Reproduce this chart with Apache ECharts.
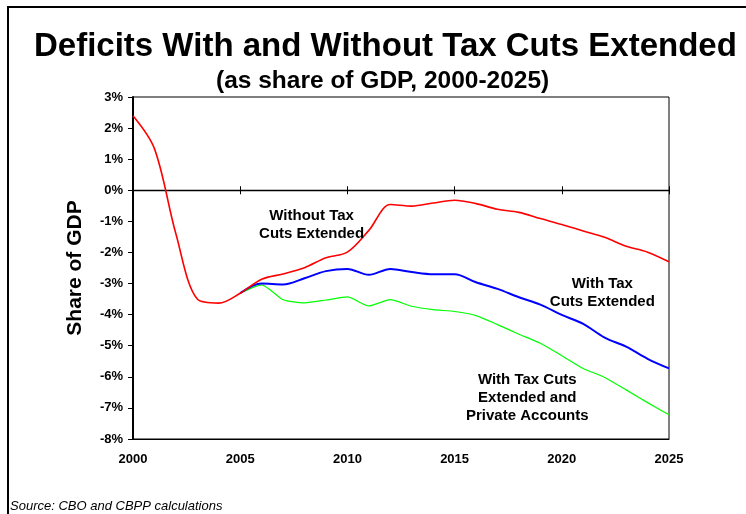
<!DOCTYPE html>
<html>
<head>
<meta charset="utf-8">
<script src="https://cdn.jsdelivr.net/npm/echarts@6/dist/echarts.min.js"></script>
<style>
  html, body { margin: 0; padding: 0; background: #fff; }
  #chart { width: 746px; height: 514px; }
</style>
</head>
<body>
<div id="chart"></div>
<script>
// Fiscal years on the horizontal axis
const years = [2000, 2001, 2002, 2003, 2004, 2005, 2006, 2007, 2008, 2009,
               2010, 2011, 2012, 2013, 2014, 2015, 2016, 2017, 2018, 2019,
               2020, 2021, 2022, 2023, 2024, 2025];

// Deficit (-) / surplus (+) as % of GDP
const withoutTaxCuts = [2.4, 1.34, -1.4, -3.5, -3.63, -3.31, -2.86, -2.69, -2.49, -2.17,
                        -1.99, -1.29, -0.46, -0.51, -0.41, -0.32, -0.43, -0.61, -0.71, -0.91,
                        -1.10, -1.31, -1.51, -1.80, -1.99, -2.30];
const withTaxCuts = [null, null, null, null, null, -3.31, -3.0, -3.03, -2.83, -2.60,
                     -2.53, -2.72, -2.53, -2.63, -2.70, -2.70, -2.96, -3.17, -3.44, -3.68,
                     -4.01, -4.30, -4.74, -5.03, -5.42, -5.73];
const withTaxCutsAndAccounts = [null, null, null, null, null, -3.31, -3.04, -3.52, -3.62, -3.53,
                                -3.43, -3.72, -3.52, -3.73, -3.84, -3.90, -4.03, -4.32, -4.63, -4.92,
                                -5.32, -5.73, -6.02, -6.42, -6.83, -7.22];

// Y-axis range (percent of GDP)
const yMin = -8, yMax = 3, yStep = 1;
// X-axis range
const xMin = 2000, xMax = 2025, xStep = 5;

const FONT = '"Liberation Sans", Arial, sans-serif';

function pairs(vals) {
  const out = [];
  vals.forEach((v, i) => { if (v !== null) out.push([years[i], v]); });
  return out;
}

function note(text, coord) {
  return {
    coord: coord,
    symbol: 'circle',
    symbolSize: 0,
    label: {
      show: true,
      position: 'inside',
      formatter: text,
      color: '#000',
      fontFamily: FONT,
      fontWeight: 'bold',
      fontSize: 15,
      lineHeight: 18,
      align: 'center',
      verticalAlign: 'middle'
    }
  };
}

const chart = echarts.init(document.getElementById('chart'), null, { renderer: 'canvas' });

const baseX = {
  type: 'value', min: xMin, max: xMax, interval: xStep,
  splitLine: { show: false }
};

chart.setOption({
  animation: false,
  backgroundColor: '#fff',
  title: [
    {
      text: 'Deficits With and Without Tax Cuts Extended',
      left: 29, top: 25,
      textStyle: { fontFamily: FONT, fontWeight: 'bold', fontSize: 33, color: '#000' }
    },
    {
      text: '(as share of GDP, 2000-2025)',
      left: 211, top: 64,
      textStyle: { fontFamily: FONT, fontWeight: 'bold', fontSize: 24.5, color: '#000' }
    },
    {
      text: 'Source: CBO and CBPP calculations',
      left: 5, top: 495,
      textStyle: { fontFamily: FONT, fontStyle: 'italic', fontWeight: 'normal', fontSize: 13, color: '#000' }
    }
  ],
  graphic: [
    { type: 'line', shape: { x1: 7, y1: 7, x2: 746, y2: 7 }, style: { stroke: '#000', lineWidth: 2 } },
    { type: 'line', shape: { x1: 8, y1: 7, x2: 8, y2: 514 }, style: { stroke: '#000', lineWidth: 2 } }
  ],
  grid: {
    left: 133, right: 77, top: 97, bottom: 75,
    show: true, borderColor: '#000', borderWidth: 1, backgroundColor: 'transparent'
  },
  xAxis: [
    Object.assign({}, baseX, {
      position: 'bottom',
      axisLine: { show: true, onZero: false, lineStyle: { color: '#000', width: 1 } },
      axisTick: { show: false },
      axisLabel: { show: true, margin: 14, color: '#000', fontFamily: FONT, fontWeight: 'bold', fontSize: 13,
                   formatter: v => String(v) }
    }),
    Object.assign({}, baseX, {
      position: 'bottom',
      axisLine: { show: true, onZero: true, onZeroAxisIndex: 0, lineStyle: { color: '#000', width: 1.3 } },
      axisTick: { show: true, inside: false, length: 4, lineStyle: { color: '#000', width: 1 } },
      axisLabel: { show: false }
    }),
    Object.assign({}, baseX, {
      position: 'top',
      axisLine: { show: false, onZero: true, onZeroAxisIndex: 0 },
      axisTick: { show: true, inside: false, length: 4, lineStyle: { color: '#000', width: 1 } },
      axisLabel: { show: false }
    })
  ],
  yAxis: {
    type: 'value', min: yMin, max: yMax, interval: yStep,
    name: 'Share of GDP',
    nameLocation: 'middle',
    nameGap: 47,
    nameRotate: 90,
    nameTextStyle: { fontFamily: FONT, fontWeight: 'bold', fontSize: 21, color: '#000' },
    axisLine: { show: true, onZero: false, lineStyle: { color: '#000', width: 2 } },
    axisTick: { show: true, inside: false, length: 5, lineStyle: { color: '#000', width: 1 } },
    axisLabel: { margin: 10, color: '#000', fontFamily: FONT, fontWeight: 'bold', fontSize: 13, formatter: '{value}%' },
    splitLine: { show: false }
  },
  series: [
    {
      name: 'Without Tax Cuts Extended',
      type: 'line',
      data: pairs(withoutTaxCuts),
      showSymbol: false,
      smooth: 0.33,
      lineStyle: { color: '#ff0000', width: 1.6 },
      z: 4,
      markPoint: {
        silent: true,
        data: [note('Without Tax\nCuts Extended', [2008.33, -1.1])]
      }
    },
    {
      name: 'With Tax Cuts Extended',
      type: 'line',
      data: pairs(withTaxCuts),
      showSymbol: false,
      smooth: 0.33,
      lineStyle: { color: '#0000ff', width: 2 },
      z: 3,
      markPoint: {
        silent: true,
        data: [note('With Tax\nCuts Extended', [2021.89, -3.31])]
      }
    },
    {
      name: 'With Tax Cuts Extended and Private Accounts',
      type: 'line',
      data: pairs(withTaxCutsAndAccounts),
      showSymbol: false,
      smooth: 0.2,
      lineStyle: { color: '#00ff00', width: 1.2 },
      z: 2,
      markPoint: {
        silent: true,
        data: [note('With Tax Cuts\nExtended and\nPrivate Accounts', [2018.39, -6.68])]
      }
    }
  ]
});
</script>
</body>
</html>
